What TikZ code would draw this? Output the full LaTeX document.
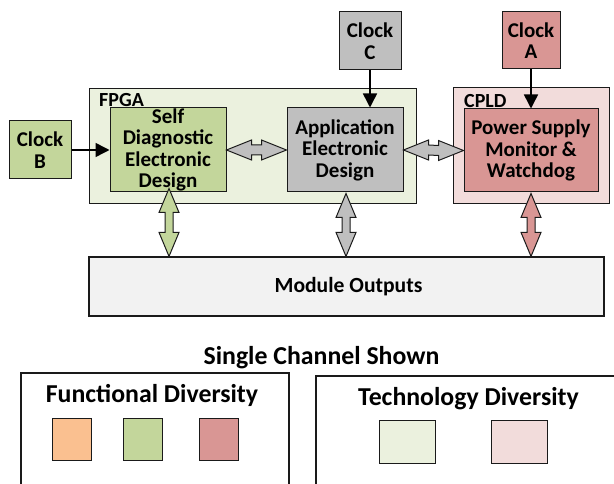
\documentclass[tikz,border=0pt]{standalone}
\usepackage{fontspec}
\setmainfont{Carlito}
\usetikzlibrary{arrows.meta,calc}

\definecolor{olivemid}{HTML}{C3D69B}
\definecolor{olivepale}{HTML}{EBF1DE}
\definecolor{rosemid}{HTML}{D99694}
\definecolor{rosepale}{HTML}{F2DCDB}
\definecolor{greymid}{HTML}{BFBFBF}
\definecolor{greypale}{HTML}{F2F2F2}
\definecolor{orangemid}{HTML}{FAC090}
\definecolor{edge}{HTML}{1A1A1A}

% double-headed block arrows between two points
\newcommand\hdblarrow[3]{%
  \filldraw[blockarrow, fill=#3] (#1) -- ($(#1)+(25,-10)$) -- ($(#1)+(25,-5)$)
    -- ($(#2)+(-25,-5)$) -- ($(#2)+(-25,-10)$) -- (#2) -- ($(#2)+(-25,10)$)
    -- ($(#2)+(-25,5)$) -- ($(#1)+(25,5)$) -- ($(#1)+(25,10)$) -- cycle;}
\newcommand\vdblarrow[3]{%
  \filldraw[blockarrow, fill=#3] (#1) -- ($(#1)+(10,24)$) -- ($(#1)+(4,24)$)
    -- ($(#2)+(4,-24)$) -- ($(#2)+(10,-24)$) -- (#2) -- ($(#2)+(-10,-24)$)
    -- ($(#2)+(-4,-24)$) -- ($(#1)+(-4,24)$) -- ($(#1)+(-10,24)$) -- cycle;}

\begin{document}
\begin{tikzpicture}[x=1pt, y=-1pt,
  block/.style={draw=edge, line width=1pt, inner sep=0pt, align=center,
    font=\fontsize{21}{21.5}\selectfont\bfseries},
  container/.style={draw=edge, line width=1pt, inner sep=0pt},
  tag/.style={inner sep=0pt, font=\fontsize{20}{20}\selectfont\bfseries},
  title/.style={inner sep=0pt, font=\fontsize{25.8}{26}\selectfont\bfseries},
  swatch/.style={draw=edge, line width=1pt, inner sep=0pt},
  legendbox/.style={draw=edge, line width=1.6pt},
  clockarrow/.style={line width=1.5pt, -{Triangle[length=14pt,width=14pt]}},
  blockarrow/.style={draw=edge, line width=1pt, line join=miter},
]
\useasboundingbox (0,0) rectangle (614,484);

% device containers
\node[container, fill=olivepale, minimum width=327pt, minimum height=115pt] (fpga) at (252.5,146.5) {};
\node[container, fill=rosepale, minimum width=156pt, minimum height=116pt] (cpld) at (531,146) {};
\node[tag, anchor=base west] (fpgalbl) at (99,107) {FPGA};
\node[tag, anchor=base west] (cpldlbl) at (464,108) {CPLD};

% functional blocks
\node[block, fill=olivemid, minimum width=116pt, minimum height=84pt] (self) at (168,150) {Self\\Diagnostic\\Electronic\\Design};
\node[block, fill=greymid, minimum width=116pt, minimum height=84pt] (app) at (345,150) {Application\\Electronic\\Design};
\node[block, fill=rosemid, minimum width=134pt, minimum height=83pt] (psm) at (531,150.5) {Power Supply\\Monitor \&\\Watchdog};

% clocks
\node[block, fill=olivemid, minimum width=62pt, minimum height=58pt] (clkB) at (40,150) {Clock\\B};
\node[block, fill=greymid, minimum width=62pt, minimum height=58pt] (clkC) at (370,41) {Clock\\C};
\node[block, fill=rosemid, minimum width=58pt, minimum height=57pt] (clkA) at (531,40.5) {Clock\\A};

% outputs
\node[draw=edge, line width=1.2pt, fill=greypale, minimum width=515pt, minimum height=59pt, inner sep=0pt] (mod) at (346.5,286.5) {};
\node[inner sep=0pt, anchor=base, font=\fontsize{21.6}{22}\selectfont\bfseries] (modlbl) at (348.5,292) {Module Outputs};

% clock feeds
\draw[clockarrow] (clkB.east) -- (self.west);
\draw[clockarrow] (clkC.south) -- (clkC.south |- app.north);
\draw[clockarrow] (clkA.south) -- (clkA.south |- psm.north);

% data paths
\hdblarrow{self.east}{app.west}{greymid}
\hdblarrow{app.east}{psm.west}{greymid}
\coordinate (gtop) at ($(self.south)+(1,-4)$);
\coordinate (gbot) at (gtop |- mod.north);
\vdblarrow{gtop}{gbot}{olivemid}
\coordinate (atop) at ($(app.south)+(1,1)$);
\coordinate (abot) at (atop |- mod.north);
\vdblarrow{atop}{abot}{greymid}
\coordinate (ptop) at ($(psm.south)+(0,1)$);
\coordinate (pbot) at (ptop |- mod.north);
\vdblarrow{ptop}{pbot}{rosemid}

\node[title, anchor=base] (caption) at (321.5,364) {Single Channel Shown};

% legends
\draw[legendbox] (21,373) rectangle (289,495);
\node[title, anchor=base] (funclbl) at (152,402) {Functional Diversity};
\node[swatch, fill=orangemid, minimum width=39pt, minimum height=42pt] (swO) at (71.5,439) {};
\node[swatch, fill=olivemid, minimum width=39pt, minimum height=42pt] (swG) at (142.5,439) {};
\node[swatch, fill=rosemid, minimum width=39pt, minimum height=42pt] (swR) at (218.5,439) {};

\draw[legendbox] (316,376) rectangle (630,495);
\node[title, anchor=base] (techlbl) at (468.5,405) {Technology Diversity};
\node[swatch, fill=olivepale, minimum width=56pt, minimum height=43pt] (swLG) at (407,441.5) {};
\node[swatch, fill=rosepale, minimum width=56pt, minimum height=43pt] (swLR) at (519,441.5) {};
\end{tikzpicture}
\end{document}
